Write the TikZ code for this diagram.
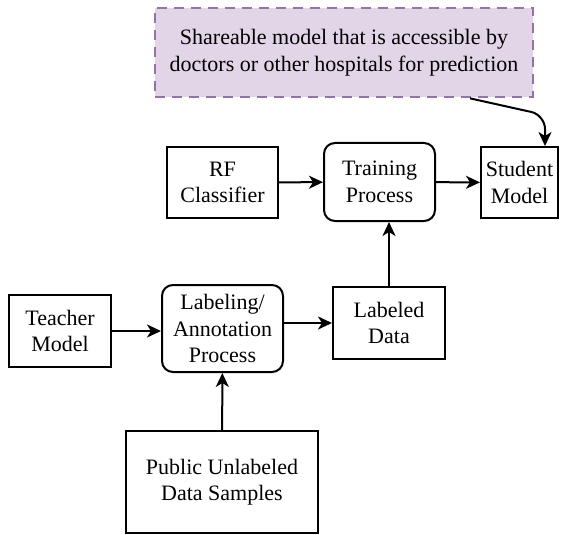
\documentclass[tikz,border=0pt]{standalone}
\usepackage{fontspec}
\setmainfont{Liberation Serif}
\usetikzlibrary{arrows.meta, positioning}

\definecolor{shareFill}{HTML}{E1D5E7}
\definecolor{shareLine}{HTML}{9673A6}

\begin{document}
\begin{tikzpicture}[
        x=1pt, y=-1pt,
        every node/.style={draw, line width=2pt, align=center, inner sep=0pt,
            font=\rmfamily\fontsize{22}{26.5}\selectfont},
        box/.style={rectangle},
        proc/.style={rectangle, rounded corners=11pt},
        note/.style={rectangle, fill=shareFill, draw=shareLine, line width=2.7pt,
            dash pattern=on 10pt off 7pt},
        arr/.style={line width=2pt, -{Stealth[length=14pt, width=13pt, inset=4pt]}}
    ]
        \useasboundingbox (0,0) rectangle (563,535);

        % Boxes
        \node[note, minimum width=378pt, minimum height=89pt] (share) at (344,52.5)
            {Shareable model that is accessible by\\doctors or other hospitals for prediction};
        \node[box, minimum width=111pt, minimum height=71pt] (rf) at (222.5,182.5) {RF\\Classifier};
        \node[proc, minimum width=111pt, minimum height=78pt] (train) at (379.5,182) {Training\\Process};
        \node[box, minimum width=77pt, minimum height=71pt] (student) at (519.5,182.5) {Student\\Model};
        \node[box, minimum width=102pt, minimum height=72pt] (teacher) at (60,331) {Teacher\\Model};
        \node[proc, minimum width=121pt, minimum height=87pt] (label) at (222.5,328.5)
            {Labeling/\\Annotation\\Process};
        \node[box, minimum width=112pt, minimum height=72pt] (labeled) at (389,323) {Labeled\\Data};
        \node[box, minimum width=192pt, minimum height=102pt] (public) at (222,482)
            {Public Unlabeled\\Data Samples};

        % Connectors
        \coordinate (from) at ([xshift=126pt]share.south);
        \coordinate (to) at ([xshift=25.5pt]student.north);
        \draw[arr, rounded corners=14pt] (from) -- ([yshift=31pt]to) -- (to);
        \draw[arr] (rf) -- (train);
        \draw[arr] (train) -- (student);
        \draw[arr] (teacher) -- (teacher -| label.west);
        \draw[arr] (label.east |- labeled) -- (labeled);
        \draw[arr] (labeled.north) -- (labeled.north |- train.south);
        \draw[arr] (public) -- (label);
    \end{tikzpicture}
\end{document}
